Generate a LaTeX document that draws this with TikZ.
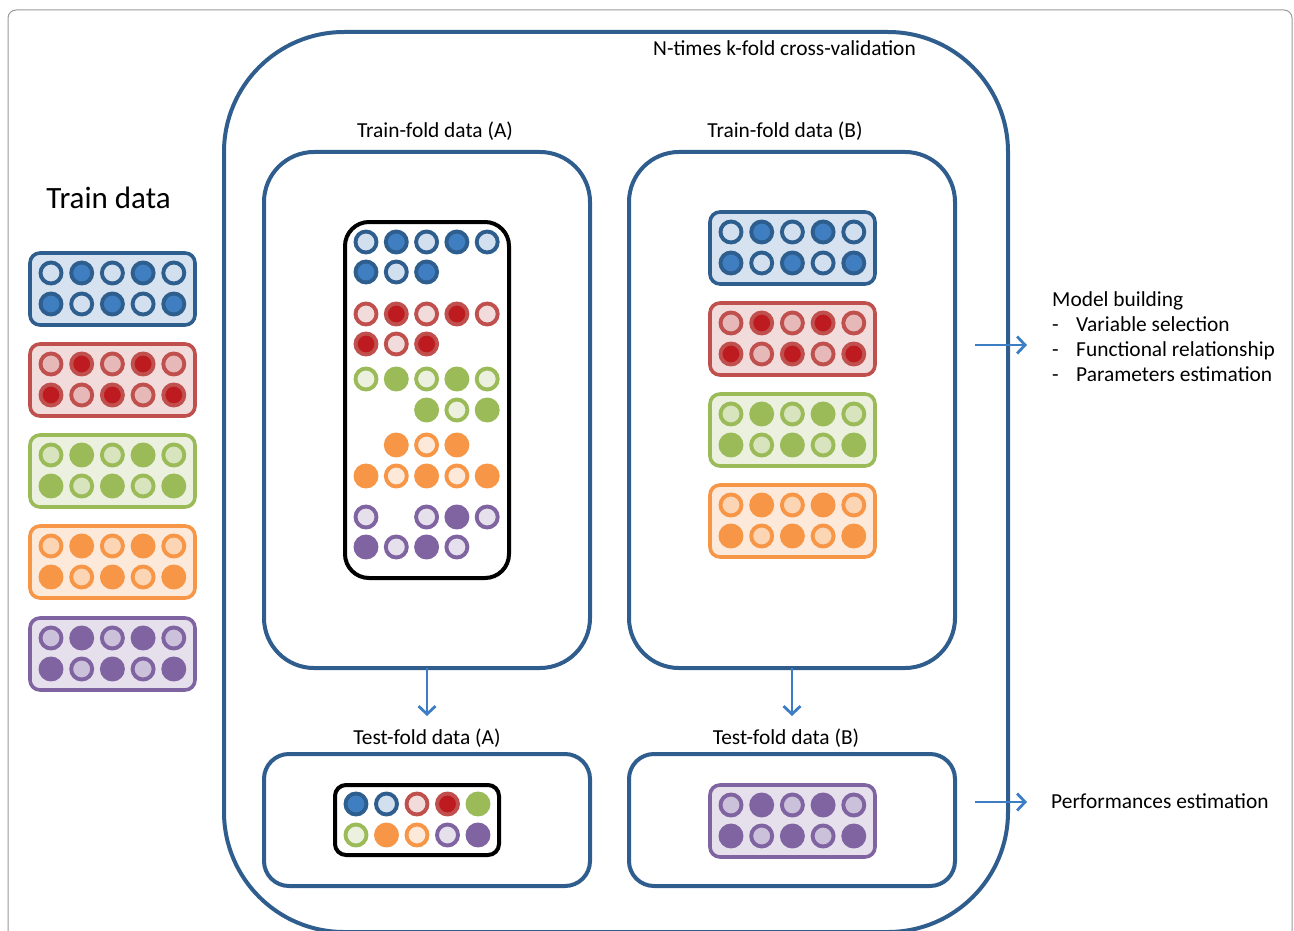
\documentclass[tikz,border=0pt]{standalone}
\usepackage{fontspec}
\setmainfont{Carlito}
\usetikzlibrary{arrows.meta}
\definecolor{frameblue}{RGB}{47,93,142}
\definecolor{arrowblue}{RGB}{61,125,195}
\definecolor{blueline}{RGB}{46,94,142}
\definecolor{bluedk}{RGB}{63,127,193}
\definecolor{bluelt}{RGB}{210,223,239}
\definecolor{bluewl}{RGB}{210,223,239}
\definecolor{bluebox}{RGB}{214,226,240}
\definecolor{redline}{RGB}{192,80,77}
\definecolor{reddk}{RGB}{190,27,32}
\definecolor{redlt}{RGB}{230,185,184}
\definecolor{redwl}{RGB}{242,220,219}
\definecolor{redbox}{RGB}{242,220,219}
\definecolor{greenline}{RGB}{155,187,89}
\definecolor{greendk}{RGB}{155,187,89}
\definecolor{greenlt}{RGB}{215,228,189}
\definecolor{greenwl}{RGB}{235,241,222}
\definecolor{greenbox}{RGB}{235,241,222}
\definecolor{orangeline}{RGB}{247,150,70}
\definecolor{orangedk}{RGB}{247,150,70}
\definecolor{orangelt}{RGB}{252,213,181}
\definecolor{orangewl}{RGB}{253,233,217}
\definecolor{orangebox}{RGB}{253,233,217}
\definecolor{purpleline}{RGB}{128,100,162}
\definecolor{purpledk}{RGB}{128,100,162}
\definecolor{purplelt}{RGB}{204,193,218}
\definecolor{purplewl}{RGB}{229,224,236}
\definecolor{purplebox}{RGB}{229,224,236}
\tikzset{
  bead/.style={circle, minimum size=21pt, inner sep=0pt, outer sep=0pt, line width=3.9pt},
  darkbead/.style={bead, draw=#1line, fill=#1dk},
  litebead/.style={bead, draw=#1line, fill=#1lt},
  whitebead/.style={bead, draw=#1line, fill=#1wl},
  cbox/.style={draw=#1line, fill=#1box, line width=3.6pt, rounded corners=10pt,
    minimum width=165pt, minimum height=72pt, inner sep=0pt, outer sep=0pt},
  foldbox/.style={draw=frameblue, line width=4pt, inner sep=0pt, outer sep=0pt, minimum width=326pt},
  blackbox/.style={draw=black, line width=4pt, fill=white, inner sep=0pt, outer sep=0pt, rounded corners=24pt},
  lab/.style={font=\fontsize{21.4}{25}\selectfont, inner sep=0pt},
  conn/.style={draw=arrowblue, line width=2.8pt, -{Straight Barb[length=8pt,width=17pt,line width=2.8pt]}}
}
\newcommand{\pill}[4]{%
  \node[cbox=#4, anchor=north west] (#1) at (#2,#3) {};
  \foreach \i in {1,...,5}{\foreach \j in {1,2}{%
    \pgfmathtruncatemacro\pp{mod(\i+\j,2)}%
    \pgfmathsetmacro\cx{#2+21+30.7*(\i-1)}%
    \pgfmathsetmacro\cy{#3+20+31*(\j-1)}%
    \ifnum\pp=0\relax
      \node[litebead=#4] (#1-\j-\i) at (\cx,\cy) {};%
    \else
      \node[darkbead=#4] (#1-\j-\i) at (\cx,\cy) {};%
    \fi
  }}%
}
\begin{document}
\begin{tikzpicture}[x=1pt,y=-1pt]
\useasboundingbox (0,0) rectangle (1294,931);
% outer gray frame
\draw[gray!80, line width=1pt, rounded corners=8pt] (8,950) -- (8,10) -- (1292,10) -- (1292,950);
% cross-validation container
\node[draw=frameblue, line width=4pt, rounded corners=120pt, minimum width=784pt, minimum height=900pt,
  inner sep=0pt, anchor=north west] (cv) at (222,30) {};
\node[lab, anchor=base] (cvlab) at (784.5,56) {N-times k-fold cross-validation};
% train data
\node[font=\fontsize{31}{35}\selectfont, inner sep=0pt, anchor=base] (trlab) at (108.5,208) {Train data};
\pill{tb}{30}{253}{blue}
\pill{tr}{30}{344}{red}
\pill{tg}{30}{435}{green}
\pill{to}{30}{526}{orange}
\pill{tp}{30}{618}{purple}
% fold boxes
\node[foldbox, rounded corners=50pt, minimum height=516pt, anchor=north west] (tfA) at (264,152) {};
\node[foldbox, rounded corners=50pt, minimum height=516pt, anchor=north west] (tfB) at (629,152) {};
\node[foldbox, rounded corners=25pt, minimum height=132pt, anchor=north west] (teA) at (264,754) {};
\node[foldbox, rounded corners=25pt, minimum height=132pt, anchor=north west] (teB) at (629,754) {};
\node[lab, anchor=base] (tfAlab) at (435,138) {Train-fold data (A)};
\node[lab, anchor=base] (tfBlab) at (785,138) {Train-fold data (B)};
\node[lab, anchor=base] (teAlab) at (427,744) {Test-fold data (A)};
\node[lab, anchor=base] (teBlab) at (786,744) {Test-fold data (B)};
% train-fold A mixed box
\node[blackbox, minimum width=164pt, minimum height=356pt, anchor=north west] (mixA) at (345,222) {};
\foreach \c/\y/\t/\k [count=\n] in {
  1/242/whitebead/blue, 2/242/darkbead/blue, 3/242/whitebead/blue, 4/242/darkbead/blue, 5/242/whitebead/blue,
  1/272/darkbead/blue, 2/272/whitebead/blue, 3/272/darkbead/blue,
  1/314/whitebead/red, 2/314/darkbead/red, 3/314/whitebead/red, 4/314/darkbead/red, 5/314/whitebead/red,
  1/344/darkbead/red, 2/344/whitebead/red, 3/344/darkbead/red,
  1/379/whitebead/green, 2/379/darkbead/green, 3/379/whitebead/green, 4/379/darkbead/green, 5/379/whitebead/green,
  3/410/darkbead/green, 4/410/whitebead/green, 5/410/darkbead/green,
  2/445/darkbead/orange, 3/445/whitebead/orange, 4/445/darkbead/orange,
  1/476/darkbead/orange, 2/476/whitebead/orange, 3/476/darkbead/orange, 4/476/whitebead/orange, 5/476/darkbead/orange,
  1/517/whitebead/purple, 3/517/whitebead/purple, 4/517/darkbead/purple, 5/517/whitebead/purple,
  1/547/darkbead/purple, 2/547/whitebead/purple, 3/547/darkbead/purple, 4/547/whitebead/purple}{
  \pgfmathsetmacro\cx{366+30.3*(\c-1)}
  \node[\t=\k] (ma\n) at (\cx,\y) {};
}
% train-fold B
\pill{fb}{710}{212}{blue}
\pill{fr}{710}{303}{red}
\pill{fg}{710}{394}{green}
\pill{fo}{710}{485}{orange}
% test-fold A mixed box
\node[blackbox, rounded corners=11pt, minimum width=164pt, minimum height=70pt, anchor=north west] (mixT) at (335,785) {};
\foreach \c/\y/\t/\k [count=\n] in {
  1/804/darkbead/blue, 2/804/whitebead/blue, 3/804/whitebead/red, 4/804/darkbead/red, 5/804/darkbead/green,
  1/835/whitebead/green, 2/835/darkbead/orange, 3/835/whitebead/orange, 4/835/whitebead/purple, 5/835/darkbead/purple}{
  \pgfmathsetmacro\cx{356+30.5*(\c-1)}
  \node[\t=\k] (mt\n) at (\cx,\y) {};
}
% test-fold B
\pill{eb}{710}{785}{purple}
% arrows
\coordinate (aA) at (427,716);
\coordinate (aB) at (792,716);
\draw[conn] (tfA.south -| aA) -- (aA);
\draw[conn] (tfB.south -| aB) -- (aB);
\coordinate (m0) at (975,345);
\coordinate (m1) at (1027,345);
\coordinate (p0) at (975,802);
\coordinate (p1) at (1027,802);
\draw[conn] (m0) -- (m1);
\draw[conn] (p0) -- (p1);
% right texts
\node[lab, anchor=base west] (mb) at (1052,306) {Model building};
\node[lab, anchor=base west] (d1) at (1052,331) {-};
\node[lab, anchor=base west] (vs) at (1076,331) {Variable selection};
\node[lab, anchor=base west] (d2) at (1052,356) {-};
\node[lab, anchor=base west] (fr) at (1076,356) {Functional relationship};
\node[lab, anchor=base west] (d3) at (1052,381) {-};
\node[lab, anchor=base west] (pe) at (1076,381) {Parameters estimation};
\node[lab, anchor=base west] (perf) at (1051,808) {Performances estimation};
\end{tikzpicture}
\end{document}
